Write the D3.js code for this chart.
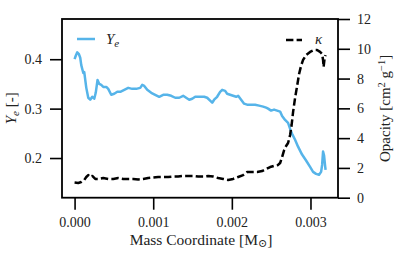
<!DOCTYPE html>
<html><head><meta charset="utf-8">
<script src="https://cdn.jsdelivr.net/npm/d3@7"></script>
<style>
html,body{margin:0;padding:0;background:#fff;}
text{font-family:"Liberation Serif","DejaVu Serif",serif;fill:#222;}
</style></head>
<body><svg id="c" width="399" height="257"></svg>
<script>
// mass coordinate in units of 1e-3 Msun
const massYe = [0,0.015,0.034,0.053,0.072,0.085,0.111,0.123,0.149,0.174,0.199,0.225,0.250,0.269,0.292,0.314,0.339,0.365,0.403,0.428,0.466,0.504,0.543,0.581,0.632,0.682,0.733,0.784,0.835,0.860,0.886,0.924,0.975,1.025,1.076,1.127,1.178,1.229,1.280,1.331,1.381,1.419,1.458,1.496,1.534,1.559,1.597,1.648,1.686,1.724,1.750,1.775,1.813,1.851,1.877,1.915,1.940,1.978,2.016,2.055,2.080,2.118,2.156,2.194,2.245,2.296,2.347,2.398,2.436,2.461,2.499,2.537,2.576,2.614,2.639,2.677,2.715,2.741,2.766,2.804,2.842,2.893,2.944,2.995,3.033,3.071,3.109,3.135,3.148,3.160,3.173,3.186,3.192];
const ye = [0.400,0.407,0.414,0.411,0.403,0.388,0.372,0.374,0.342,0.322,0.318,0.324,0.320,0.332,0.358,0.350,0.348,0.344,0.344,0.340,0.328,0.330,0.334,0.334,0.338,0.342,0.340,0.340,0.342,0.348,0.346,0.338,0.332,0.328,0.324,0.328,0.328,0.326,0.322,0.322,0.326,0.322,0.318,0.320,0.324,0.324,0.324,0.324,0.322,0.316,0.312,0.318,0.324,0.334,0.338,0.336,0.330,0.328,0.326,0.324,0.326,0.318,0.310,0.308,0.308,0.308,0.306,0.304,0.302,0.300,0.296,0.298,0.296,0.294,0.285,0.277,0.271,0.259,0.249,0.237,0.223,0.207,0.195,0.182,0.172,0.168,0.166,0.172,0.186,0.213,0.205,0.184,0.176];
const massK = [0,0.047,0.085,0.123,0.149,0.174,0.199,0.225,0.263,0.314,0.365,0.428,0.492,0.555,0.619,0.682,0.746,0.810,0.873,0.936,1.000,1.063,1.127,1.190,1.254,1.318,1.381,1.445,1.508,1.572,1.635,1.699,1.762,1.826,1.890,1.953,2.016,2.080,2.144,2.194,2.258,2.322,2.385,2.436,2.487,2.550,2.588,2.614,2.639,2.665,2.690,2.715,2.741,2.760,2.779,2.804,2.830,2.855,2.880,2.906,2.944,2.995,3.046,3.084,3.122,3.148,3.160,3.167,3.180,3.192];
const kappa = [1.02,0.99,1.05,1.19,1.39,1.52,1.39,1.46,1.26,1.26,1.32,1.26,1.26,1.32,1.26,1.26,1.26,1.22,1.26,1.32,1.36,1.39,1.39,1.39,1.42,1.42,1.46,1.46,1.46,1.42,1.42,1.46,1.42,1.32,1.26,1.19,1.26,1.39,1.52,1.73,1.73,1.73,1.79,1.93,2.06,2.16,2.20,2.33,2.73,3.20,3.47,3.67,4.21,4.88,5.76,6.70,7.50,8.31,8.85,9.25,9.58,9.79,9.92,9.92,9.79,9.65,9.25,8.78,9.38,9.58];
const xTicks = [0,0.001,0.002,0.003];
const yLTicks = [0.2,0.3,0.4];
const yRTicks = [0,2,4,6,8,10,12];

const svg = d3.select("#c");
const L=62,R=338,T=19,B=197.7;
const x = d3.scaleLinear().domain([-0.00016,0.00335]).range([L,R]);
const yL = d3.scaleLinear().domain([0.1197,0.4814]).range([B,T]);
const yR = d3.scaleLinear().domain([0,12]).range([B,T]);

const blue="#56B4E9";
const yeData = massYe.map((m,i)=>[m*1e-3, ye[i]]);
const kData = massK.map((m,i)=>[m*1e-3, kappa[i]]);

svg.append("path").datum(yeData)
  .attr("d", d3.line().x(d=>x(d[0])).y(d=>yL(d[1])))
  .attr("fill","none").attr("stroke",blue).attr("stroke-width",2.5).attr("stroke-linejoin","round");
svg.append("path").datum(kData)
  .attr("d", d3.line().x(d=>x(d[0])).y(d=>yR(d[1])))
  .attr("fill","none").attr("stroke","#000").attr("stroke-width",2.5)
  .attr("stroke-dasharray","7.4,3.2").attr("stroke-linejoin","round");

// frame
svg.append("rect").attr("x",L).attr("y",T).attr("width",R-L).attr("height",B-T)
  .attr("fill","none").attr("stroke","#000").attr("stroke-width",1.8);

function style(g){
  g.select(".domain").remove();
  g.selectAll(".tick line").attr("stroke","#000").attr("stroke-width",1.6);
  g.selectAll(".tick text").style("font-size","14px").attr("fill","#222");
}
svg.append("g").attr("transform",`translate(0,${B})`)
  .call(d3.axisBottom(x).tickValues(xTicks).tickFormat(d3.format(".3f")).tickSize(12).tickPadding(7))
  .call(style);
svg.append("g").attr("transform",`translate(${L},0)`)
  .call(d3.axisLeft(yL).tickValues(yLTicks).tickFormat(d3.format(".1f")).tickSize(12).tickPadding(8))
  .call(style);
svg.append("g").attr("transform",`translate(${R},0)`)
  .call(d3.axisRight(yR).tickValues(yRTicks).tickFormat(d3.format("d")).tickSize(12).tickPadding(7))
  .call(style);

// axis labels
const xl = svg.append("text").attr("x",(L+R)/2+1).attr("y",245).attr("text-anchor","middle").style("font-size","15.5px");
xl.append("tspan").text("Mass Coordinate [M");
xl.append("tspan").text("\u2299").style("font-size","11px").attr("dy",2);
xl.append("tspan").text("]").attr("dy",-2);

const yl = svg.append("text").attr("transform",`translate(16,${(T+B)/2}) rotate(-90)`).attr("text-anchor","middle").style("font-size","15px");
yl.append("tspan").text("Y").style("font-style","italic");
yl.append("tspan").text("e").style("font-size","11px").style("font-style","italic").attr("dy",3);
yl.append("tspan").text(" [-]").attr("dy",-3);

const yr = svg.append("text").attr("transform",`translate(390,${(T+B)/2}) rotate(-90)`).attr("text-anchor","middle").style("font-size","15px");
yr.append("tspan").text("Opacity [cm");
yr.append("tspan").text("2").style("font-size","10.5px").attr("dy",-5);
yr.append("tspan").text(" g").attr("dy",5);
yr.append("tspan").text("\u22121").style("font-size","10.5px").attr("dy",-5);
yr.append("tspan").text("]").attr("dy",5);

// legends
svg.append("line").attr("x1",77).attr("x2",95).attr("y1",39).attr("y2",39).attr("stroke",blue).attr("stroke-width",2.5);
const lt = svg.append("text").attr("x",106).attr("y",44).style("font-size","15px").style("font-style","italic");
lt.append("tspan").text("Y");
lt.append("tspan").text("e").style("font-size","11px").attr("dy",3);

svg.append("line").attr("x1",286).attr("x2",302).attr("y1",40).attr("y2",40).attr("stroke","#000").attr("stroke-width",2.5).attr("stroke-dasharray","7.4,3.2");
svg.append("text").attr("x",315).attr("y",44).style("font-size","15px").style("font-style","italic").text("\u03BA");
</script></body></html>
